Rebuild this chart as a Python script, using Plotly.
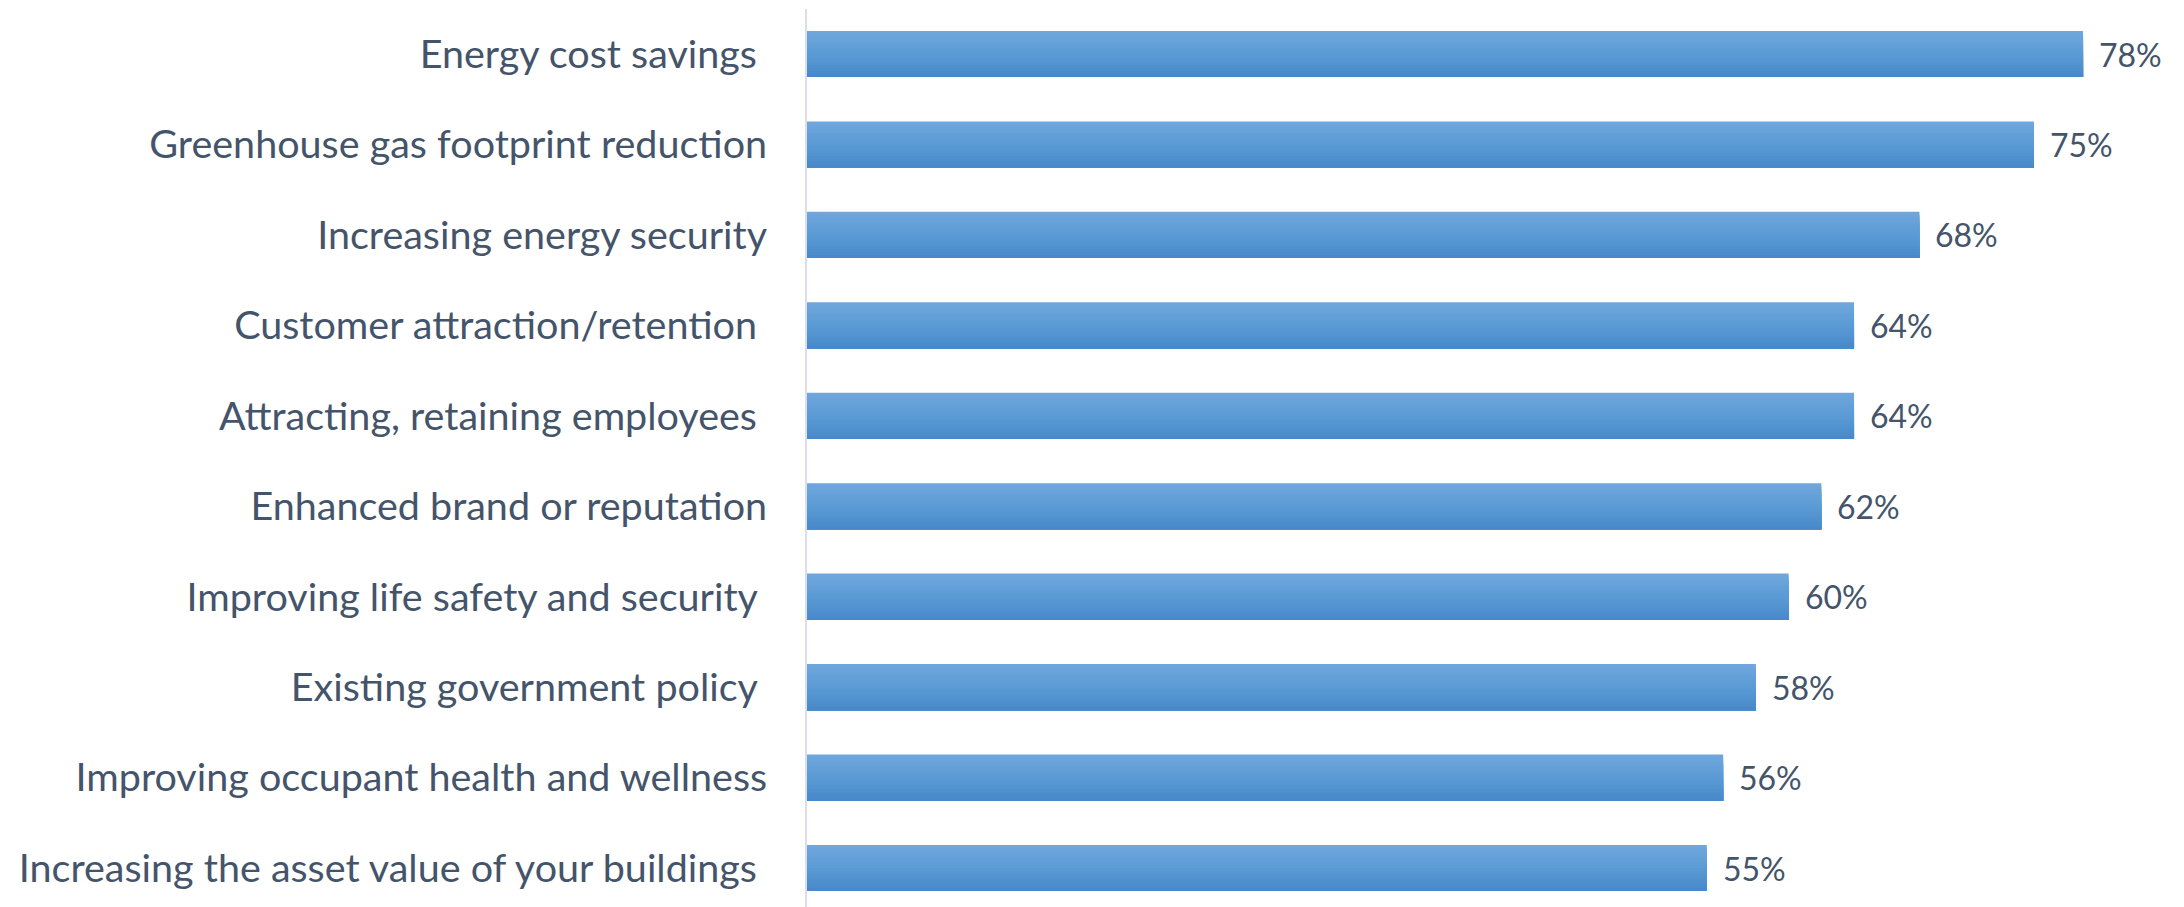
import plotly.graph_objects as go

categories = [
    "Energy cost savings\u00a0",
    "Greenhouse gas footprint reduction",
    "Increasing energy security",
    "Customer attraction/retention\u00a0",
    "Attracting, retaining employees\u00a0",
    "Enhanced brand or reputation",
    "Improving life safety and security\u00a0",
    "Existing government policy\u00a0",
    "Improving occupant health and wellness",
    "Increasing the asset value of your buildings\u00a0",
]
values = [78, 75, 68, 64, 64, 62, 60, 58, 56, 55]
value_labels = ["78%", "75%", "68%", "64%", "64%", "62%", "60%", "58%", "56%", "55%"]

TEXT = "#44546A"
BAR_W = 0.51
N_STRIPS = 16
top_c = (112, 167, 221)
mid_c = (91, 155, 213)
bot_c = (70, 136, 202)


def lerp(a, b, t):
    return tuple(round(a[i] + (b[i] - a[i]) * t) for i in range(3))


fig = go.Figure()
strip = BAR_W / N_STRIPS
for i in range(N_STRIPS):
    t = (i + 0.5) / N_STRIPS  # 0 = top, 1 = bottom
    if t < 0.5:
        c = lerp(top_c, mid_c, t / 0.5)
    else:
        c = lerp(mid_c, bot_c, (t - 0.5) / 0.5)
    # y axis reversed: offset increases downward; each strip extends to bar bottom
    off = -BAR_W / 2 + i * strip
    fig.add_trace(go.Bar(
        x=values, y=categories, orientation="h",
        width=BAR_W - i * strip, offset=off,
        marker=dict(color="rgb(%d,%d,%d)" % c, line=dict(width=0)),
        hoverinfo="skip", showlegend=False,
    ))

for cat, v, lab in zip(categories, values, value_labels):
    fig.add_annotation(x=v, y=cat, text=lab, showarrow=False,
                       xanchor="left", yanchor="middle", xshift=14,
                       font=dict(family="Lato", size=32, color=TEXT))

fig.update_layout(
    width=2184, height=907,
    margin=dict(l=807, r=0, t=9, b=0),
    paper_bgcolor="white", plot_bgcolor="white",
    barmode="overlay",
    font=dict(family="Lato", color=TEXT),
    xaxis=dict(range=[0, 84.17], showgrid=False, zeroline=False,
               showticklabels=False, showline=False, fixedrange=True),
    yaxis=dict(categoryorder="array", categoryarray=categories,
               range=[9.431, -0.4976], showgrid=False, zeroline=False,
               showline=True, linecolor="#DCDEE6", linewidth=2,
               ticks="", ticklabelstandoff=30,
               tickfont=dict(family="Lato", size=39.5, color=TEXT)),
)

fig.write_html("out.html")
